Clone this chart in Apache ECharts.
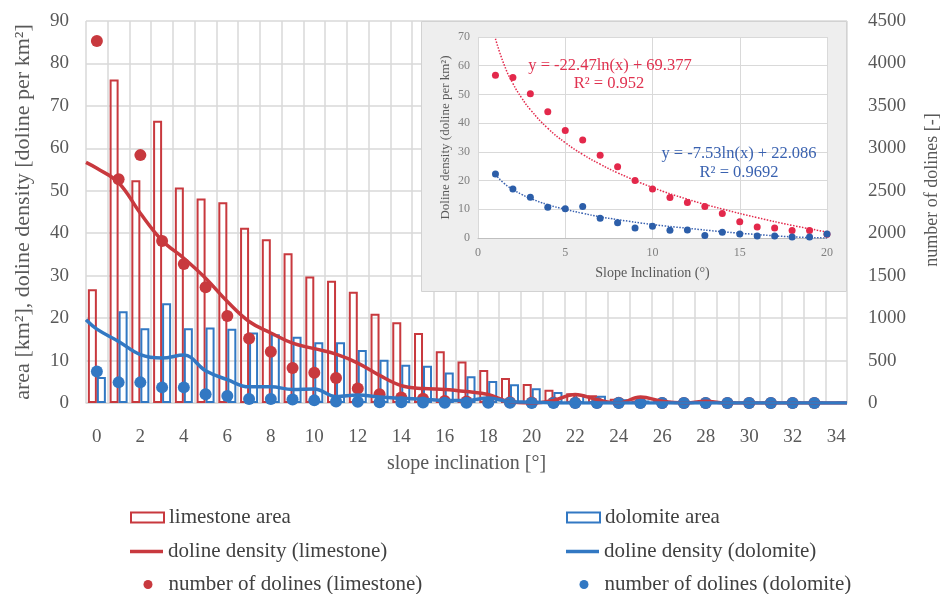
<!DOCTYPE html>
<html>
<head>
<meta charset="utf-8">
<script src="https://cdn.jsdelivr.net/npm/echarts@6/dist/echarts.min.js"></script>
<style>html,body{margin:0;padding:0;background:#fff;}#chart{width:941px;height:594px;}</style>
</head>
<body>
<div id="chart"></div>
<script>
// ---------- data ----------
const categories = ['0','1','2','3','4','5','6','7','8','9','10','11','12','13','14','15','16','17','18','19','20','21','22','23','24','25','26','27','28','29','30','31','32','33','34'];
const limestoneArea = [26.8,76.2,52.5,66.5,50.8,48.2,47.3,41.3,38.6,35.3,29.8,28.8,26.2,21.0,19.0,16.5,12.2,9.8,7.8,5.9,4.5,3.1,2.3,1.8,1.0,0.6,0.5,0.4,0.3,0.2,0.1,0.1,0.1,0.05,0];
const dolomiteArea = [6.1,21.6,17.6,23.5,17.6,17.8,17.5,16.6,16.2,15.6,14.3,14.3,12.5,10.2,9.0,8.8,7.2,6.3,5.2,4.4,3.5,2.6,2.1,1.7,0.9,0.6,0.5,0.4,0.3,0.3,0.2,0.2,0.2,0.2,0.2];
// doline density lines (positions in slope-class units)
const densityX = [-0.5,0,1,2,3,4,5,6,7,8,9,10,11,12,13,14,15,16,17,18,19,20,21,22,23,24,25,26,27,28,29,30,31,32,33,34,34.5];
const densityLimestone = [56.7,55.3,51.9,44.7,38.3,34.1,29.4,23.9,19.2,16.5,14.1,12.8,11.5,9.4,6.5,4.1,3.4,3.2,2.7,2.0,0.3,0,0.6,2.0,0.8,0,1.4,0.4,0,0.4,0,0,0,0,0,0,0];
const densityDolomite = [19.6,17.4,14.5,11.4,10.6,11.3,7.6,5.5,3.8,3.8,3.2,3.3,1.5,1.9,1.4,1.1,0.9,0.6,0.6,1.2,0.3,0.2,0,0,0,0,0,0,0,0,0,0,0,0,0,0,0];
const dolinesLimestone = [4265,2635,2920,1909,1638,1364,1025,760,605,412,355,294,172,104,65,49,25,18,12,8,6,5,4,3,2,2,1,1,0,0,0,0,0,0];
const dolinesDolomite = [372,243,243,184,184,102,82,47,47,40,31,19,15,10,8,6,4,3,2,2,1,1,1,0,0,0,0,0,0,0,0,0,0,0];
// inset
const insetX = [1,2,3,4,5,6,7,8,9,10,11,12,13,14,15,16,17,18,19,20];
const insetLimestone = [56.7,55.9,50.2,44.0,37.4,34.1,28.8,24.8,20.0,17.1,14.1,12.4,11.0,8.5,5.7,3.8,3.5,2.6,2.6,1.3];
const insetDolomite = [22.3,17.1,14.2,10.7,10.2,11.0,6.9,5.3,3.5,4.1,2.7,2.8,0.9,2.0,1.4,0.7,0.7,0.35,0.35,1.4];
const trendX = [1,1.5,2,2.5,3,4,5,6,7,8,10,12,14,16,18,20];
const trendLimestone = [69.4,60.3,53.8,48.8,44.7,38.2,33.2,29.1,25.7,22.7,17.6,13.5,10.1,7.1,4.4,2.1];
const trendDolomite = [22.1,19.0,16.9,15.2,13.8,11.6,10.0,8.6,7.4,6.4,4.7,3.4,2.2,1.2,0.4,0.0];
const leftTicks = [0,90,10];
const rightTicks = [0,4500,500];

// ---------- styling ----------
const RED = '#c8393e', BLUE = '#3278c3';
const IRED = '#e3284b', IBLUE = '#2c5ea9';
const FONT = 'Liberation Serif';
const TXT = '#595959';
const GRID = '#d9d9d9';

const pairs = (xs, ys) => xs.map((x, i) => [x, ys[i]]);

function legend(name, left, top, icon, extra, textPad) {
  return Object.assign({
    left: left, top: top, orient: 'horizontal', padding: 0,
    itemWidth: 33, itemHeight: 10, itemGap: 0, itemTextGap: 3,
    selectedMode: false,
    textStyle: {fontFamily: FONT, fontSize: 21, color: '#404040', padding: [0, 0, 0, textPad || 0]},
    data: [Object.assign({name: name}, icon)]
  }, extra || {});
}

const chart = echarts.init(document.getElementById('chart'), null, {renderer: 'canvas'});
chart.setOption({
  backgroundColor: '#ffffff',
  animation: false,
  grid: [
    {left: 86, right: 94, top: 21, bottom: 191, outerBoundsMode: 'none', containLabel: false},
    {left: 478, right: 114, top: 37, bottom: 356, show: true, backgroundColor: '#ffffff', borderWidth: 0, z: 52, outerBoundsMode: 'none', containLabel: false}
  ],
  legend: [
    legend('limestone area', 130, 507, {icon: 'rect', itemStyle: {color: '#ffffff', borderColor: RED, borderWidth: 2}}),
    legend('doline density (limestone)', 130, 541, {icon: 'rect', itemStyle: {color: RED, borderWidth: 0}}, {itemHeight: 3.5}),
    legend('number of dolines (limestone)', 143.5, 574, {icon: 'circle', itemStyle: {color: RED, opacity: 1}}, {itemWidth: 9, itemHeight: 9}, 11),
    legend('dolomite area', 566, 507, {icon: 'rect', itemStyle: {color: '#ffffff', borderColor: BLUE, borderWidth: 2}}),
    legend('doline density (dolomite)', 566, 541, {icon: 'rect', itemStyle: {color: BLUE, borderWidth: 0}}, {itemHeight: 3.5}),
    legend('number of dolines (dolomite)', 579.5, 574, {icon: 'circle', itemStyle: {color: BLUE, opacity: 1}}, {itemWidth: 9, itemHeight: 9}, 11)
  ],
  xAxis: [
    {
      type: 'category', gridIndex: 0, data: categories, boundaryGap: true,
      axisLine: {show: true, lineStyle: {color: GRID, width: 1.5}},
      axisTick: {show: false},
      axisLabel: {interval: 1, margin: 25, color: TXT, fontFamily: FONT, fontSize: 19},
      splitLine: {show: true, interval: 0, lineStyle: {color: GRID, width: 1.5}},
      name: 'slope inclination [°]', nameLocation: 'middle', nameGap: 51,
      nameTextStyle: {fontFamily: FONT, fontSize: 20, color: TXT}
    },
    {type: 'value', gridIndex: 0, min: -0.5, max: 34.5, show: false},
    {
      type: 'value', gridIndex: 1, min: 0, max: 20, interval: 5, z: 53,
      axisLine: {show: true, lineStyle: {color: '#bfbfbf'}},
      axisTick: {show: false},
      axisLabel: {color: '#808080', fontFamily: FONT, fontSize: 12, margin: 9},
      splitLine: {show: true, lineStyle: {color: GRID}},
      name: 'Slope Inclination (°)', nameLocation: 'middle', nameGap: 28,
      nameTextStyle: {fontFamily: FONT, fontSize: 14, color: TXT}
    }
  ],
  yAxis: [
    {
      type: 'value', gridIndex: 0, min: leftTicks[0], max: leftTicks[1], interval: leftTicks[2],
      axisLine: {show: false}, axisTick: {show: false},
      axisLabel: {margin: 17, color: TXT, fontFamily: FONT, fontSize: 19},
      splitLine: {show: true, lineStyle: {color: GRID, width: 1.5}},
      name: 'area [km²], doline density [doline per km²]', nameLocation: 'middle', nameGap: 52, nameRotate: 90,
      nameTextStyle: {fontFamily: FONT, fontSize: 22, color: TXT}
    },
    {
      type: 'value', gridIndex: 0, position: 'right', min: rightTicks[0], max: rightTicks[1], interval: rightTicks[2],
      axisLine: {show: false}, axisTick: {show: false},
      axisLabel: {margin: 21, color: TXT, fontFamily: FONT, fontSize: 19, formatter: v => String(v)},
      splitLine: {show: false}
    },
    {
      type: 'value', gridIndex: 1, min: 0, max: 70, interval: 10, z: 53,
      axisLine: {show: false}, axisTick: {show: false},
      axisLabel: {color: '#808080', fontFamily: FONT, fontSize: 12, margin: 8},
      splitLine: {show: true, lineStyle: {color: GRID}},
      name: 'Doline density (doline per km²)', nameLocation: 'middle', nameGap: 26, nameRotate: 90,
      nameTextStyle: {fontFamily: FONT, fontSize: 13, color: TXT}
    }
  ],
  graphic: [
    {type: 'rect', z: 50, shape: {x: 421.5, y: 21.5, width: 425, height: 270},
     style: {fill: '#eeeeee', stroke: '#d2d2d2', lineWidth: 1}},
    {type: 'text', z: 70, style: {text: 'y = -22.47ln(x) + 69.377', x: 610, y: 66, textAlign: 'center', textVerticalAlign: 'middle', font: '16.5px "Liberation Serif"', fill: '#e0314f'}},
    {type: 'text', z: 70, style: {text: 'R² = 0.952', x: 609, y: 84, textAlign: 'center', textVerticalAlign: 'middle', font: '16.5px "Liberation Serif"', fill: '#e0314f'}},
    {type: 'text', z: 70, style: {text: 'y = -7.53ln(x) + 22.086', x: 739, y: 154, textAlign: 'center', textVerticalAlign: 'middle', font: '16.5px "Liberation Serif"', fill: '#3a62b0'}},
    {type: 'text', z: 70, style: {text: 'R² = 0.9692', x: 739, y: 173, textAlign: 'center', textVerticalAlign: 'middle', font: '16.5px "Liberation Serif"', fill: '#3a62b0'}},
    {type: 'text', z: 70, x: 932, y: 190, rotation: Math.PI / 2,
     style: {text: 'number of dolines [-]', x: 0, y: 0, textAlign: 'center', textVerticalAlign: 'middle', font: '18px "Liberation Serif"', fill: TXT}}
  ],
  series: [
    {name: 'limestone area', type: 'bar', xAxisIndex: 0, yAxisIndex: 0, data: limestoneArea,
     barWidth: 9, barGap: '0%', itemStyle: {color: 'rgba(255,255,255,0)', borderColor: RED, borderWidth: 2}},
    {name: 'dolomite area', type: 'bar', xAxisIndex: 0, yAxisIndex: 0, data: dolomiteArea,
     barWidth: 9, barGap: '0%', itemStyle: {color: 'rgba(255,255,255,0)', borderColor: BLUE, borderWidth: 2}},
    {name: 'doline density (limestone)', type: 'line', xAxisIndex: 1, yAxisIndex: 0, data: pairs(densityX, densityLimestone),
     smooth: 0.4, symbol: 'none', showSymbol: false, color: RED, lineStyle: {color: RED, width: 3.5}},
    {name: 'doline density (dolomite)', type: 'line', xAxisIndex: 1, yAxisIndex: 0, data: pairs(densityX, densityDolomite),
     smooth: 0.4, symbol: 'none', showSymbol: false, color: BLUE, lineStyle: {color: BLUE, width: 3.5}},
    {name: 'number of dolines (limestone)', type: 'scatter', xAxisIndex: 0, yAxisIndex: 1, data: dolinesLimestone,
     symbolSize: 12, itemStyle: {color: RED, opacity: 1}},
    {name: 'number of dolines (dolomite)', type: 'scatter', xAxisIndex: 0, yAxisIndex: 1, data: dolinesDolomite,
     symbolSize: 12, itemStyle: {color: BLUE, opacity: 1}},
    {name: 'trend limestone', type: 'line', xAxisIndex: 2, yAxisIndex: 2, data: pairs(trendX, trendLimestone), z: 58,
     smooth: true, symbol: 'none', lineStyle: {color: IRED, width: 1.5, type: 'dotted'}},
    {name: 'trend dolomite', type: 'line', xAxisIndex: 2, yAxisIndex: 2, data: pairs(trendX, trendDolomite), z: 58,
     smooth: true, symbol: 'none', lineStyle: {color: '#3a62b0', width: 1.5, type: 'dotted'}},
    {name: 'inset limestone', type: 'scatter', xAxisIndex: 2, yAxisIndex: 2, data: pairs(insetX, insetLimestone), z: 60,
     symbolSize: 7, itemStyle: {color: IRED, opacity: 1}},
    {name: 'inset dolomite', type: 'scatter', xAxisIndex: 2, yAxisIndex: 2, data: pairs(insetX, insetDolomite), z: 60,
     symbolSize: 7, itemStyle: {color: IBLUE, opacity: 1}}
  ]
});
</script>
</body>
</html>
